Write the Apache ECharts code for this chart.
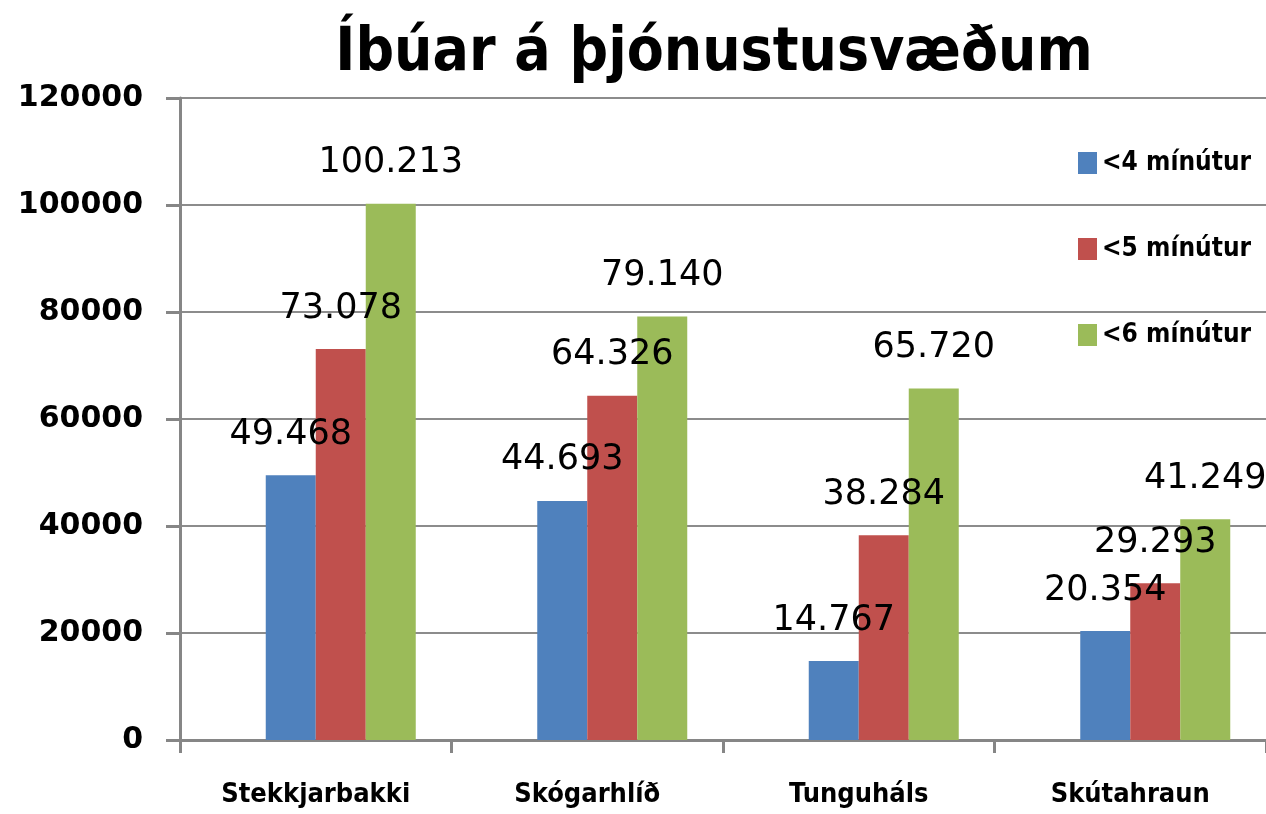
<!DOCTYPE html>
<html>
<head>
<meta charset="utf-8">
<script src="https://cdn.jsdelivr.net/npm/echarts@6/dist/echarts.min.js"></script>
<style>html,body{margin:0;padding:0;background:#fff}#c{width:1266px;height:814px}</style>
</head>
<body>
<div id="c"></div>
<script>
const categories = ['Stekkjarbakki', 'Skógarhlíð', 'Tunguháls', 'Skútahraun'];
const seriesNames = ['<4 mínútur', '<5 mínútur', '<6 mínútur'];
const min4 = [49468, 44693, 14767, 20354];
const min5 = [73078, 64326, 38284, 29293];
const min6 = [100213, 79140, 65720, 41249];
const colors = ['#4F81BD', '#C0504D', '#9BBB59'];

const fmt = v => String(v).replace(/\B(?=(\d{3})+(?!\d))/g, '.');
const chart = echarts.init(document.getElementById('c'));
const valueSets = [min4, min5, min6];
const bars = seriesNames.map((name, i) => ({
  name: name,
  type: 'bar',
  data: valueSets[i],
  barWidth: 50,
  barGap: '0%',
  itemStyle: { color: colors[i] },
  z: 2,
  label: {
    show: true,
    position: 'top',
    distance: 23,
    formatter: p => fmt(p.value),
    fontFamily: 'DejaVu Sans',
    fontSize: 35,
    color: '#000'
  }
}));
// empty spacer series (draws nothing) so the bar group sits right of the category centre as in the reference
bars.unshift({ name: 'spacer', type: 'bar', data: categories.map(() => null), barWidth: 50, barGap: '0%', silent: true });

chart.setOption({
  animation: false,
  backgroundColor: '#fff',
  title: {
    text: 'Íbúar á þjónustusvæðum',
    left: 709, top: 19, textAlign: 'center',
    textStyle: { fontFamily: 'DejaVu Sans Condensed', fontWeight: 'bold', fontSize: 60, color: '#000' }
  },
  legend: {
    data: seriesNames,
    orient: 'vertical',
    left: 1073, top: 145,
    icon: 'rect',
    itemWidth: 19, itemHeight: 22,
    itemGap: 60,
    textStyle: { fontFamily: 'DejaVu Sans Condensed', fontWeight: 'bold', fontSize: 26, color: '#000' }
  },
  grid: { left: 180, top: 98, width: 1090, bottom: 74 },
  xAxis: {
    type: 'category',
    data: categories,
    axisLine: { lineStyle: { color: '#868686', width: 3 } },
    axisTick: { show: true, length: 13, lineStyle: { color: '#868686', width: 3 } },
    axisLabel: { margin: 41, fontFamily: 'DejaVu Sans Condensed', fontWeight: 'bold', fontSize: 27, color: '#000' }
  },
  yAxis: {
    type: 'value',
    min: 0, max: 120000, interval: 20000,
    axisLine: { show: true, lineStyle: { color: '#868686', width: 3 } },
    axisTick: { show: true, length: 14, lineStyle: { color: '#868686', width: 3 } },
    splitLine: { show: true, lineStyle: { color: '#8c8c8c', width: 2 } },
    axisLabel: { margin: 37, formatter: v => String(v), fontFamily: 'DejaVu Sans', fontWeight: 'bold', fontSize: 30, color: '#000' }
  },
  series: bars
});
</script>
</body>
</html>
